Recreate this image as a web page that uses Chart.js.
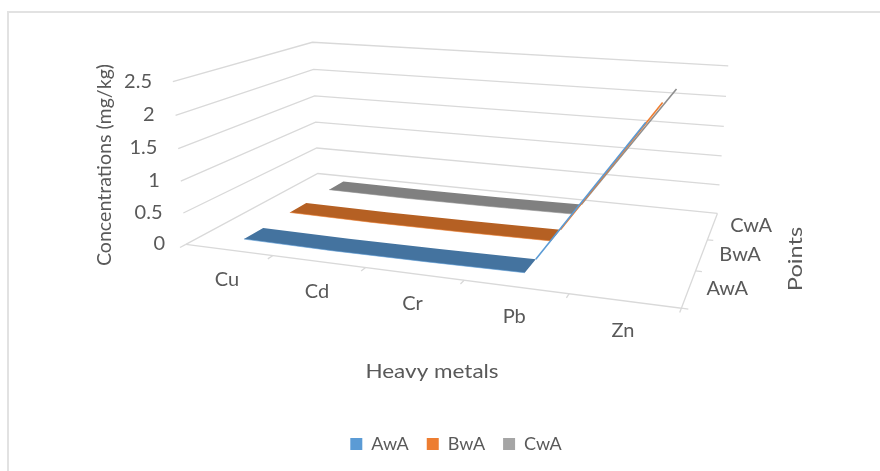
<!DOCTYPE html>
<html>
<head>
<meta charset="utf-8">
<style>
  html, body { margin: 0; padding: 0; background: #fff; }
  canvas { display: block; }
</style>
<script src="https://cdn.jsdelivr.net/npm/chart.js@4"></script>
</head>
<body>
<canvas id="chart3d" width="880" height="471"></canvas>
<script>
const categories = ['Cu', 'Cd', 'Cr', 'Pb', 'Zn'];
const seriesNames = ['AwA', 'BwA', 'CwA'];
const valuesAwA = [0.03, 0.02, 0.03, 0.05, 2.2];
const valuesBwA = [0.03, 0.02, 0.03, 0.05, 2.2];
const valuesCwA = [0.03, 0.02, 0.03, 0.05, 2.15];
const yTickLabels = ['0', '0.5', '1', '1.5', '2', '2.5'];
const yMax = 2.5;

const ribbonColors = ['#44739f', '#b56023', '#808080'];
const edgeColors = ['#5b9bd5', '#ed7d31', '#8f8f8f'];
const legendColors = ['#5b9bd5', '#ed7d31', '#a5a5a5'];
const gridColor = '#d9d9d9';
const textColor = '#595959';
const fontFamily = 'Lato, "Open Sans", sans-serif';

// excel style 3d view: u = along categories, v = depth, w = height, all 0..1
function project(u, v, w) {
    const d = -0.146 * u + 0.253 * v - 0.045 * w + 1;
    return {
        x: (396.4 * u + 212.5 * v - 20.8 * w + 186) / d,
        y: (19 * u - 27.2 * v - 166.6 * w + 244) / d
    };
}

function lineDataset(points, color, width) {
    return {
        data: points,
        showLine: true,
        fill: false,
        borderColor: color,
        borderWidth: width,
        pointRadius: 0,
        tension: 0
    };
}

function create_SeriesDatasets() {
    const allValues = [valuesAwA, valuesBwA, valuesCwA];
    const ribbonDepth = 0.133;
    const datasets = [];

    allValues.forEach((values, s) => {
        const vFront = (s + 0.5) / 3 - ribbonDepth / 2;
        const vBack = vFront + ribbonDepth;
        const lastFlat = values.length - 2;
        const front = [];
        const back = [];

        for (let i = 0; i <= lastFlat; i++) {
            const u = (i + 0.5) / categories.length;
            front.push(project(u, vFront, values[i] / yMax));
            back.push(project(u, vBack, values[i] / yMax));
        }

        const ribbon = lineDataset(front.concat(back.slice().reverse()), ribbonColors[s], 0);
        ribbon.fill = 'shape';
        ribbon.backgroundColor = ribbonColors[s];

        // the last segment climbs almost edge on, it only shows as a thin line
        const rise = [
            project((lastFlat + 0.5) / categories.length, vBack, values[lastFlat] / yMax),
            project((lastFlat + 1.5) / categories.length, vBack, values[lastFlat + 1] / yMax)
        ];
        datasets.push(lineDataset(rise, edgeColors[s], 1.6));
        datasets.push(lineDataset(front, edgeColors[s], 0.6));
        datasets.push(ribbon);
    });

    return datasets;
}

function create_GridDatasets() {
    const datasets = [];

    yTickLabels.forEach(label => {
        const w = parseFloat(label) / yMax;
        datasets.push(lineDataset([project(0, 0, w), project(0, 1, w), project(1, 1, w)], gridColor, 1.3));
    });

    datasets.push(lineDataset([project(0, 0, 0), project(1, 0, 0), project(1, 1, 0)], gridColor, 1.3));

    for (let i = 0; i <= categories.length; i++) {
        const u = i / categories.length;
        datasets.push(lineDataset([project(u, 0, 0), project(u, -0.035, 0)], gridColor, 1.3));
    }
    for (let i = 1; i <= seriesNames.length; i++) {
        const v = (i - 1) / seriesNames.length;
        datasets.push(lineDataset([project(1, v, 0), project(1.012, v, 0)], gridColor, 1.3));
    }

    return datasets;
}

// the picture is a bit stretched, so some labels are drawn wider than the font
function stretchedText(ctx, text, x, y, angle, stretch) {
    ctx.save();
    ctx.translate(x, y);
    ctx.rotate(angle);
    ctx.scale(stretch, 1);
    ctx.fillText(text, 0, 0);
    ctx.restore();
}

const labels3d = {
    id: 'labels3d',
    beforeDraw(chart) {
        const ctx = chart.ctx;
        ctx.save();
        ctx.strokeStyle = '#e2e2e2';
        ctx.lineWidth = 2;
        ctx.strokeRect(8, 12, 880, 480);
        ctx.restore();
    },
    afterDraw(chart) {
        const ctx = chart.ctx;
        ctx.save();
        ctx.letterSpacing = '0px';
        ctx.fillStyle = textColor;
        ctx.font = '20px ' + fontFamily;
        ctx.textBaseline = 'middle';

        ctx.textAlign = 'right';
        yTickLabels.forEach(label => {
            const p = project(0, 0, parseFloat(label) / yMax);
            stretchedText(ctx, label, p.x - 21, p.y, 0, 1);
        });

        ctx.textAlign = 'center';
        categories.forEach((label, i) => {
            const p = project((i + 0.5) / categories.length, 0, 0);
            stretchedText(ctx, label, p.x - 2, p.y + 30, 0, 1);
        });

        ctx.textAlign = 'left';
        seriesNames.forEach((label, i) => {
            const p = project(1, (i + 0.5) / seriesNames.length, 0);
            stretchedText(ctx, label, p.x + 17, p.y, 0, 1);
        });

        ctx.textAlign = 'center';
        stretchedText(ctx, 'Heavy metals', 432, 372, 0, 1.125);
        stretchedText(ctx, 'Concentrations (mg/kg)', 105, 165, -Math.PI / 2, 0.98);
        stretchedText(ctx, 'Points', 796, 259, -Math.PI / 2, 1.18);
        ctx.restore();
    }
};

function create_Graph() {
    const context = document.getElementById('chart3d').getContext('2d');
    context.letterSpacing = '1px';  // only the legend still uses this

    const chart = new Chart(context, {
        type: 'scatter',
        data: {
            datasets: create_SeriesDatasets().concat(create_GridDatasets())
        },
        options: {
            responsive: false,
            animation: false,
            layout: { padding: { left: 32, bottom: 8 } },
            scales: {
                x: { type: 'linear', display: false, min: 0, max: 880 },
                y: { type: 'linear', display: false, reverse: true, min: 0, max: 471 }
            },
            plugins: {
                tooltip: { enabled: false },
                legend: {
                    display: true,
                    position: 'bottom',
                    labels: {
                        boxWidth: 12,
                        boxHeight: 12,
                        padding: 18,
                        color: textColor,
                        font: { family: fontFamily, size: 18 },
                        generateLabels: () => seriesNames.map((name, i) => ({
                            text: name,
                            fillStyle: legendColors[i],
                            strokeStyle: legendColors[i],
                            lineWidth: 0,
                            fontColor: textColor,
                            datasetIndex: i
                        }))
                    }
                }
            }
        },
        plugins: [labels3d]
    });

    // padding and legend take room, keep both scales equal to pixels
    const area = chart.chartArea;
    chart.options.scales.x.min = area.left;
    chart.options.scales.x.max = area.right;
    chart.options.scales.y.min = area.top;
    chart.options.scales.y.max = area.bottom;
    chart.update('none');
}

window.onload = create_Graph;
</script>
</body>
</html>
